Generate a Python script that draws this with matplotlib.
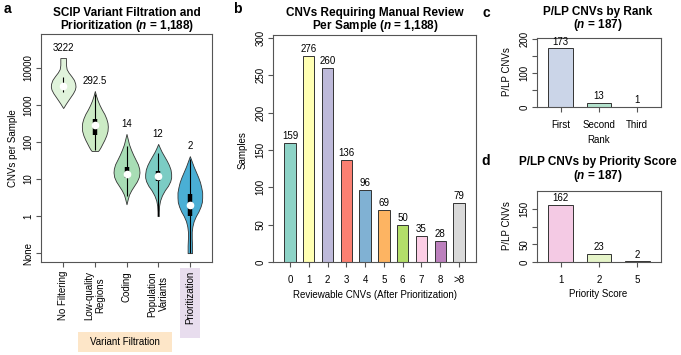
import numpy as np
import matplotlib.pyplot as plt
from matplotlib.patches import Rectangle

plt.rcParams['font.family'] = ['Liberation Sans', 'DejaVu Sans']
plt.rcParams['mathtext.fontset'] = 'custom'
plt.rcParams['mathtext.it'] = 'Liberation Sans:italic:bold'
plt.rcParams['mathtext.rm'] = 'Liberation Sans:bold'

# ---- panel a: CNVs per sample after each filter step
stages = ["No Filtering", "Low-quality\nRegions", "Coding", "Population\nVariants", "Prioritization"]
medians = [3222, 292.5, 14, 12, 2]
q1 = [3000, 155, 11, 9, 1]
q3 = [3500, 420, 21, 17, 4]
whisk_lo = [2240, 63, 3.5, 1, 0]
whisk_hi = [5750, 2000, 78, 50, 35]
violin_colors = ["#E0F3DB", "#CCEBC5", "#A8DDB5", "#7BCCC4", "#4AAFD5"]

# violin outlines (log10 CNVs, half width)
prof_levels = [
    [4.27, 4.18, 4.08, 3.97, 3.88, 3.78, 3.68, 3.58, 3.50, 3.42, 3.32, 3.22, 3.12, 3.03, 2.96, 2.92],
    [3.38, 3.25, 3.12, 3.00, 2.88, 2.76, 2.64, 2.52, 2.42, 2.30, 2.18, 2.06, 1.96, 1.86, 1.79, 1.76],
    [2.22, 2.08, 1.94, 1.80, 1.66, 1.52, 1.40, 1.28, 1.18, 1.06, 0.94, 0.82, 0.70, 0.58, 0.46, 0.32],
    [1.95, 1.85, 1.74, 1.62, 1.50, 1.38, 1.26, 1.14, 1.04, 0.94, 0.82, 0.70, 0.56, 0.42, 0.28, 0.12, 0.00],
    [1.62, 1.48, 1.34, 1.20, 1.06, 0.92, 0.78, 0.64, 0.50, 0.38, 0.26, 0.12, 0.00, -0.14, -0.28, -0.42, -0.60, -0.80, -1.00],
]
prof_width = [
    [0.09, 0.09, 0.09, 0.11, 0.17, 0.26, 0.34, 0.38, 0.39, 0.37, 0.31, 0.23, 0.15, 0.08, 0.03, 0.0],
    [0.0, 0.04, 0.09, 0.15, 0.22, 0.30, 0.36, 0.40, 0.41, 0.40, 0.36, 0.30, 0.24, 0.18, 0.13, 0.10],
    [0.0, 0.04, 0.08, 0.14, 0.21, 0.29, 0.36, 0.40, 0.41, 0.39, 0.33, 0.24, 0.15, 0.08, 0.04, 0.0],
    [0.0, 0.05, 0.11, 0.19, 0.27, 0.34, 0.39, 0.41, 0.41, 0.38, 0.31, 0.21, 0.12, 0.06, 0.03, 0.02, 0.02],
    [0.0, 0.06, 0.12, 0.19, 0.26, 0.32, 0.36, 0.39, 0.39, 0.38, 0.34, 0.27, 0.19, 0.12, 0.08, 0.06, 0.06, 0.07, 0.07],
]

# ---- panel b
review_cats = ["0", "1", "2", "3", "4", "5", "6", "7", "8", ">8"]
review_counts = [159, 276, 260, 136, 96, 69, 50, 35, 28, 79]
review_colors = ["#8DD3C7", "#FFFFB3", "#BEBADA", "#FB8072", "#80B1D3",
                 "#FDB462", "#B3DE69", "#FCCDE5", "#BC80BD", "#D9D9D9"]

# ---- panel c
rank_cats = ["First", "Second", "Third"]
rank_counts = [173, 13, 1]
rank_colors = ["#CBD5E8", "#B3E2CD", "#FDCDAC"]

# ---- panel d
score_cats = ["1", "2", "5"]
score_counts = [162, 23, 2]
score_colors = ["#F4CAE4", "#E6F5C9", "#FFF2AE"]

W, H = 681, 355
def fx(x): return x / W
def fy(y): return 1 - y / H
def box(x0, x1, y0, y1):
    return [fx(x0), fy(y1), (x1 - x0) / W, (y1 - y0) / H]

fig = plt.figure(figsize=(W / 100, H / 100), dpi=100)

SP = "#555555"
FS = 7
TFS = 8.5

def style(ax):
    for s in ax.spines.values():
        s.set_color(SP)
        s.set_linewidth(0.8)
    ax.tick_params(length=3.5, width=0.8, color=SP, labelsize=FS, pad=2)

def tolog(v):
    return np.log10(np.maximum(np.asarray(v, dtype=float), 0.1))

# ================= a
ax = fig.add_axes(box(41, 212, 34, 262))
style(ax)
pos = np.arange(1, 6)
stats = []
for lv, wd, m in zip(prof_levels, prof_width, medians):
    stats.append(dict(coords=np.array(lv), vals=np.array(wd), mean=tolog(m),
                      median=tolog(m), min=min(lv), max=max(lv)))
parts = ax.violin(stats, positions=pos, widths=[2 * max(w) for w in prof_width],
                  showmeans=False, showextrema=False, showmedians=False)
for body, c in zip(parts['bodies'], violin_colors):
    body.set_facecolor(c)
    body.set_edgecolor("#333333")
    body.set_linewidth(0.6)
    body.set_alpha(1)
ax.vlines(pos, tolog(whisk_lo), tolog(whisk_hi), color="black", lw=0.8, zorder=3)
ax.vlines(pos, tolog(q1), tolog(q3), color="black", lw=3.2, zorder=3)
ax.plot(pos, tolog(medians), "o", color="white", ms=4.5, zorder=4)
for p, lv, m in zip(pos, prof_levels, medians):
    ax.text(p, max(lv) + 0.27, f"{m:g}", ha="center", va="center", fontsize=FS)
ax.set_xlim(0.3, 5.7)
ax.set_ylim(-1.24, 4.92)
ax.set_yticks([-1, 0, 1, 2, 3, 4], ["None", "1", "10", "100", "1000", "10000"],
              rotation=90, va="center")
ax.set_xticks(pos, stages, rotation=90, va="top", ha="center",
              multialignment="center")
ax.tick_params(axis="x", pad=3)
fig.text(fx(13), fy(148), "CNVs per Sample", rotation=90, ha="center", va="center", fontsize=FS)
fig.patches.append(Rectangle((fx(180), fy(338)), 20 / W, 70 / H, transform=fig.transFigure,
                             facecolor="#E8DDEE", edgecolor="none", zorder=-1))
fig.patches.append(Rectangle((fx(78), fy(352)), 94 / W, 20 / H, transform=fig.transFigure,
                             facecolor="#FDE6C8", edgecolor="none", zorder=-1))
fig.text(fx(125), fy(342), "Variant Filtration", ha="center", va="center", fontsize=FS)

# ================= b
ax = fig.add_axes(box(273, 476, 35, 262))
style(ax)
xb = np.arange(len(review_cats))
ax.bar(xb, review_counts, width=0.6, color=review_colors, edgecolor="#333333", linewidth=0.7)
for x, v in zip(xb, review_counts):
    ax.annotate(str(v), (x, v), xytext=(0, 1.5), textcoords="offset points",
                ha="center", va="bottom", fontsize=FS)
ax.set_xlim(-0.91, 9.91)
ax.set_ylim(0, 304)
ax.set_yticks(range(0, 301, 50), [str(v) for v in range(0, 301, 50)], rotation=90, va="center")
ax.set_xticks(xb, review_cats)
ax.tick_params(axis="x", pad=6)
fig.text(fx(243), fy(150), "Samples", rotation=90, ha="center", va="center", fontsize=FS)
fig.text(fx(375), fy(295), "Reviewable CNVs (After Prioritization)", ha="center", va="center", fontsize=FS)

# ================= c
ax = fig.add_axes(box(537, 661, 38, 107))
style(ax)
xc = np.arange(1, 4)
ax.bar(xc, rank_counts, width=0.64, color=rank_colors, edgecolor="#333333", linewidth=0.7)
for x, v in zip(xc, rank_counts):
    ax.annotate(str(v), (x, v), xytext=(0, 1), textcoords="offset points",
                ha="center", va="bottom", fontsize=FS)
ax.set_xlim(0.38, 3.62)
ax.set_ylim(0, 202)
ax.set_yticks([0, 50, 100, 150, 200], ["0", "", "100", "", "200"], rotation=90, va="center")
ax.set_xticks(xc, rank_cats)
ax.tick_params(axis="x", pad=6)
fig.text(fx(507), fy(72), "P/LP CNVs", rotation=90, ha="center", va="center", fontsize=FS)
fig.text(fx(599), fy(140), "Rank", ha="center", va="center", fontsize=FS)

# ================= d
ax = fig.add_axes(box(537, 661, 191, 262))
style(ax)
ax.bar(xc, score_counts, width=0.64, color=score_colors, edgecolor="#333333", linewidth=0.7)
for x, v in zip(xc, score_counts):
    ax.annotate(str(v), (x, v), xytext=(0, 1), textcoords="offset points",
                ha="center", va="bottom", fontsize=FS)
ax.set_xlim(0.38, 3.62)
ax.set_ylim(0, 201)
ax.set_yticks([0, 50, 100, 150], ["0", "50", "", "150"], rotation=90, va="center")
ax.set_xticks(xc, score_cats)
ax.tick_params(axis="x", pad=6)
fig.text(fx(507), fy(226), "P/LP CNVs", rotation=90, ha="center", va="center", fontsize=FS)
fig.text(fx(598), fy(294), "Priority Score", ha="center", va="center", fontsize=FS)

# ================= titles and panel letters
titles = [
    (127, 13, 26, "SCIP Variant Filtration and", r"Prioritization ($\mathit{n}$ = 1,188)"),
    (375, 13, 26, "CNVs Requiring Manual Review", r"Per Sample ($\mathit{n}$ = 1,188)"),
    (598, 12, 25, "P/LP CNVs by Rank", r"($\mathit{n}$ = 187)"),
    (598, 162, 176, "P/LP CNVs by Priority Score", r"($\mathit{n}$ = 187)"),
]
for x, y1, y2, l1, l2 in titles:
    fig.text(fx(x), fy(y1), l1, ha="center", va="center", fontsize=TFS, fontweight="bold")
    fig.text(fx(x), fy(y2), l2, ha="center", va="center", fontsize=TFS, fontweight="bold")
for x, y, s in [(7, 9, "a"), (237, 9, "b"), (486, 13, "c"), (486, 161, "d")]:
    fig.text(fx(x), fy(y), s, ha="center", va="center", fontsize=10, fontweight="bold")

fig.savefig("out.png", dpi=100)
